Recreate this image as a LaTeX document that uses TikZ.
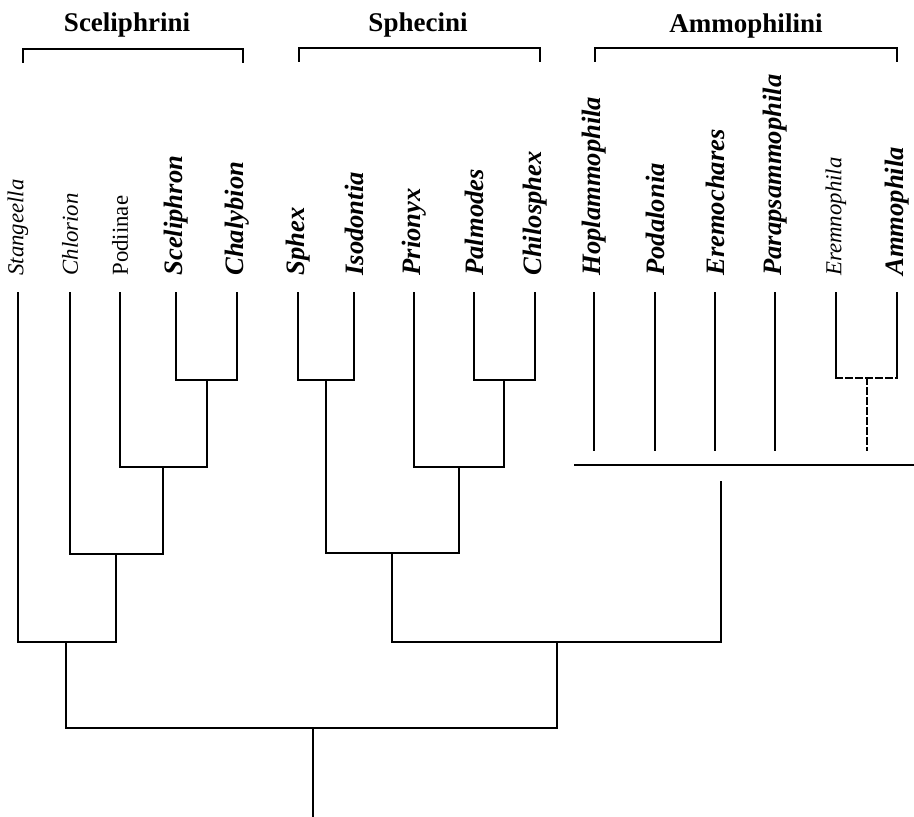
\documentclass[tikz,border=0pt]{standalone}
\usepackage{fontspec}
\setmainfont{Liberation Serif}
\usetikzlibrary{positioning}

\begin{document}
\begin{tikzpicture}[x=0.5pt, y=-0.5pt]
	\tikzset{
		taxon/.style={
			rotate=90,
			anchor=west,
			inner sep=0pt,
			font=\fontsize{13.3}{14}\selectfont\bfseries\itshape
		},
		minor/.style={
			taxon,
			font=\fontsize{11.4}{12}\selectfont\itshape
		},
		plain/.style={
			taxon,
			font=\fontsize{11.4}{12}\selectfont
		},
		tribe/.style={
			inner sep=0pt,
			font=\fontsize{13.5}{14}\selectfont\bfseries
		},
		branch/.style={line width=0.9pt, line cap=rect},
	}
	\useasboundingbox (0,0) rectangle (914,817);

	% tribes
	\node[tribe] (sceli) at (127,25) {Sceliphrini};
	\node[tribe] (sphec) at (418,25) {Sphecini};
	\node[tribe] (ammop) at (746,26) {Ammophilini};
	\coordinate (sceli-l) at (23,63);
	\coordinate (sceli-m) at (133,49);
	\coordinate (sceli-r) at (243,63);
	\coordinate (sphec-l) at (299,62);
	\coordinate (sphec-m) at (420,48);
	\coordinate (sphec-r) at (540,62);
	\coordinate (ammop-l) at (595,62);
	\coordinate (ammop-m) at (746,48);
	\coordinate (ammop-r) at (897,62);

	% taxa
	\node[minor] (stang) at (18,276) {Stangeella};
	\node[minor] (chlor) at (70,276) {Chlorion};
	\node[plain] (podii) at (120,276) {Podiinae};
	\node[taxon] (scel) at (176,276) {Sceliphron};
	\node[taxon] (chaly) at (237,276) {Chalybion};
	\node[taxon] (sphex) at (298,276) {Sphex};
	\node[taxon] (isodo) at (354,276) {Isodontia};
	\node[taxon] (priony) at (414,276) {Prionyx};
	\node[taxon] (palmo) at (474,276) {Palmodes};
	\node[taxon] (chilo) at (535,276) {Chilosphex};
	\node[taxon] (hopla) at (594,276) {Hoplammophila};
	\node[taxon] (podal) at (655,276) {Podalonia};
	\node[taxon] (eremoch) at (715,276) {Eremochares};
	\node[taxon] (parap) at (775,276) {Parapsammophila};
	\node[minor] (eremn) at (836,276) {Eremnophila};
	\node[taxon] (ammo) at (897,276) {Ammophila};

	\coordinate[below=8.5pt of stang.west] (stang-t);
	\coordinate[below=8.5pt of chlor.west] (chlor-t);
	\coordinate[below=8.5pt of podii.west] (podii-t);
	\coordinate[below=8.5pt of scel.west] (scel-t);
	\coordinate[below=8.5pt of chaly.west] (chaly-t);
	\coordinate[below=8.5pt of sphex.west] (sphex-t);
	\coordinate[below=8.5pt of isodo.west] (isodo-t);
	\coordinate[below=8.5pt of priony.west] (priony-t);
	\coordinate[below=8.5pt of palmo.west] (palmo-t);
	\coordinate[below=8.5pt of chilo.west] (chilo-t);
	\coordinate[below=8.5pt of hopla.west] (hopla-t);
	\coordinate[below=8.5pt of podal.west] (podal-t);
	\coordinate[below=8.5pt of eremoch.west] (eremoch-t);
	\coordinate[below=8.5pt of parap.west] (parap-t);
	\coordinate[below=8.5pt of eremn.west] (eremn-t);
	\coordinate[below=8.5pt of ammo.west] (ammo-t);

	% junctions
	\coordinate (sc) at (207,380);
	\coordinate (pd) at (163,467);
	\coordinate (ch) at (116,554);
	\coordinate (sg) at (66,642);
	\coordinate (si) at (326,380);
	\coordinate (pc) at (504,380);
	\coordinate (pr) at (459,467);
	\coordinate (sp) at (392,553);
	\coordinate (ea) at (867,378);
	\coordinate (stop) at (721,450);
	\coordinate (am) at (721,482);
	\coordinate (am-l) at (575,465);
	\coordinate (am-r) at (914,465);
	\coordinate (big) at (557,642);
	\coordinate (root) at (313,728);
	\coordinate (base) at (313,817);

	\draw[line width=0.9pt] (sceli-l) |- (sceli-m) -| (sceli-r);
	\draw[line width=0.9pt] (sphec-l) |- (sphec-m) -| (sphec-r);
	\draw[line width=0.9pt] (ammop-l) |- (ammop-m) -| (ammop-r);

	\draw[branch]
	(scel-t) |- (sc) -| (chaly-t)
	(podii-t) |- (pd) -| (sc)
	(chlor-t) |- (ch) -| (pd)
	(stang-t) |- (sg) -| (ch)
	(sphex-t) |- (si) -| (isodo-t)
	(palmo-t) |- (pc) -| (chilo-t)
	(priony-t) |- (pr) -| (pc)
	(si) |- (sp) -| (pr)
	(sp) |- (big) -| (am)
	(sg) |- (root) -| (big)
	(root) -- (base)
	(am-l) -- (am-r)
	(hopla-t) -- (hopla-t |- stop)
	(podal-t) -- (podal-t |- stop)
	(eremoch-t) -- (eremoch-t |- stop)
	(parap-t) -- (parap-t |- stop)
	(eremn-t) -- (eremn-t |- ea)
	(ammo-t) -- (ammo-t |- ea);
	\draw[branch, dash pattern=on 3pt off 2pt]
	(eremn-t |- ea) -- (ammo-t |- ea)
	(ea) -- (ea |- stop);
\end{tikzpicture}
\end{document}
